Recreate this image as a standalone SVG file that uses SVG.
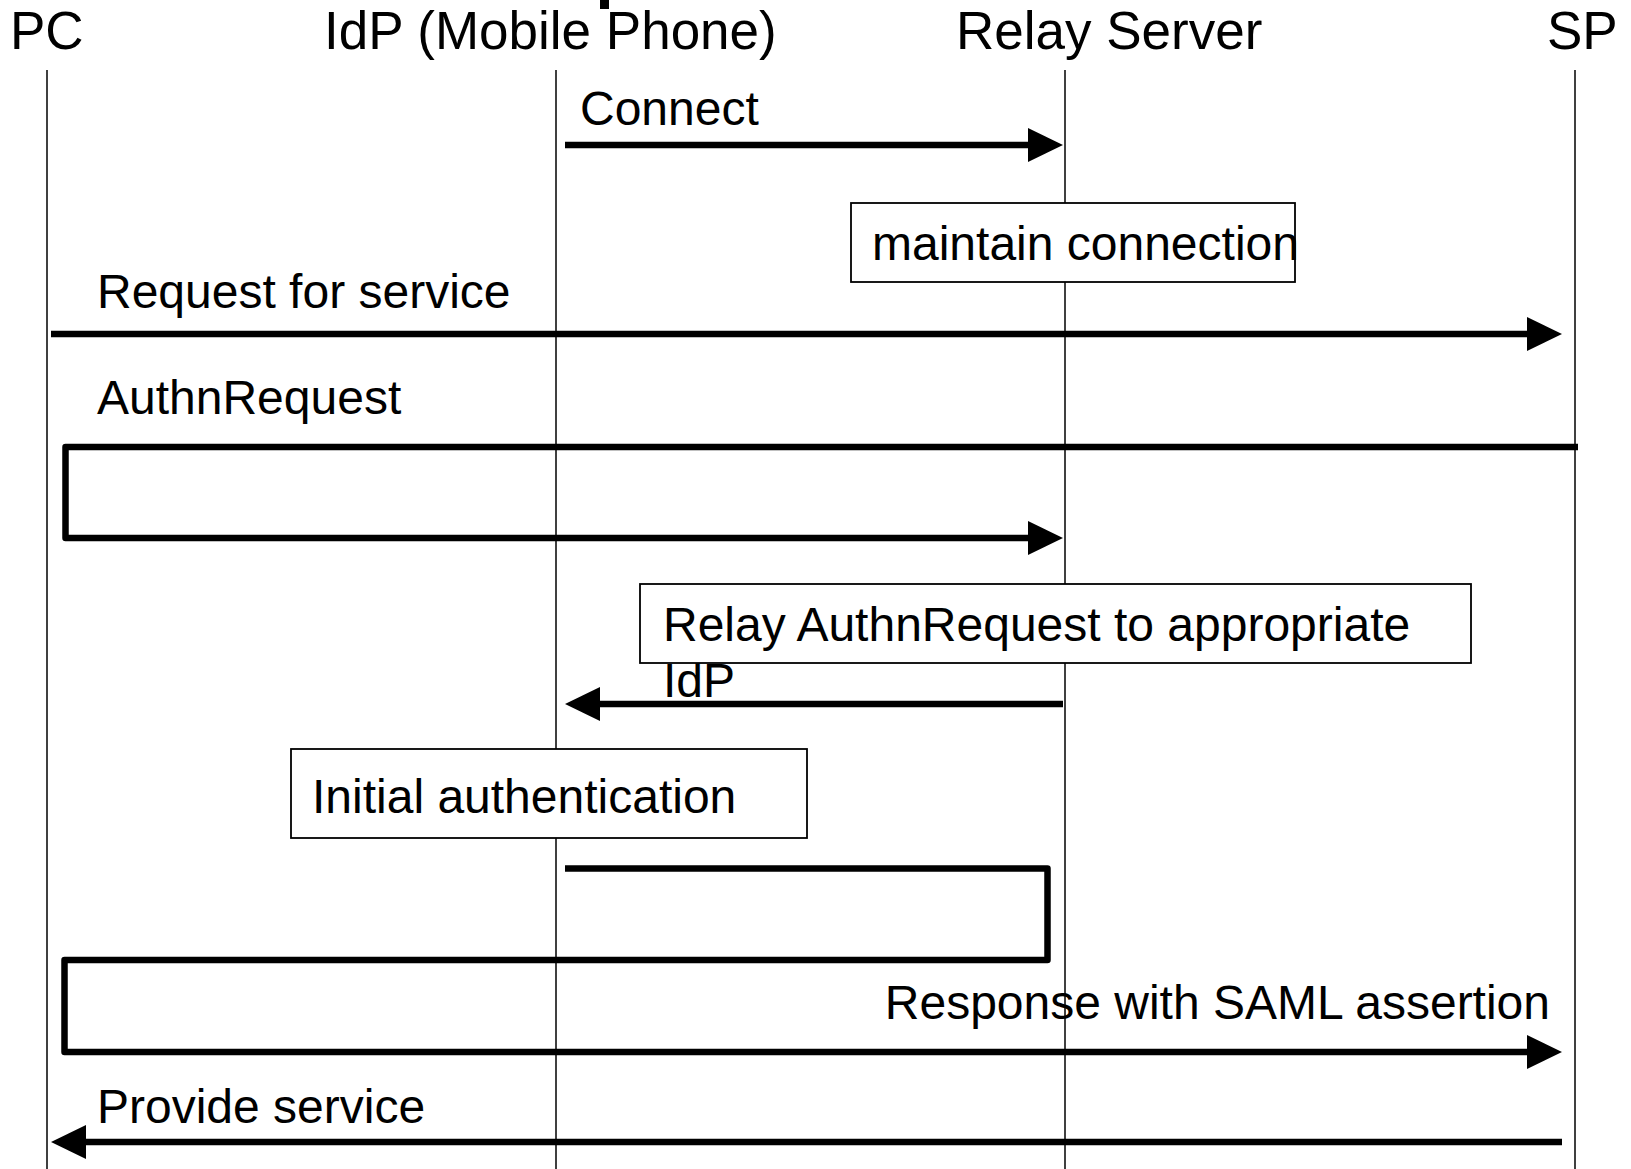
<svg xmlns="http://www.w3.org/2000/svg" width="1631" height="1169" viewBox="0 0 1631 1169">
<style>
.hd{font-family:"Liberation Sans",Arial,sans-serif;font-size:53px;fill:#000}
.tx{font-family:"Liberation Sans",Arial,sans-serif;font-size:48px;fill:#000}
.life{stroke:#000;stroke-width:1.5;fill:none}
.box{fill:#fff;stroke:#000;stroke-width:1.8}
.msg{stroke:#000;stroke-width:6.5;fill:none;stroke-linejoin:round}
.head{fill:#000}
</style>
<rect width="1631" height="1169" fill="#fff"/>
<rect x="600" y="0" width="9" height="9" fill="#000"/>
<g id="labels">
<text class="tx" x="580" y="125">Connect</text>
<text class="tx" x="97" y="308">Request for service</text>
<text class="tx" x="97" y="414">AuthnRequest</text>
<text class="tx" x="663" y="697">IdP</text>
<text class="tx" x="1550" y="1019" text-anchor="end">Response with SAML assertion</text>
<text class="tx" x="97" y="1123">Provide service</text>
</g>
<g id="lifelines">
<g id="pc"><text class="hd" x="10" y="49">PC</text><line class="life" x1="47" y1="70" x2="47" y2="1169"/></g>
<g id="idp"><text class="hd" x="324" y="49">IdP (Mobile Phone)</text><line class="life" x1="556" y1="70" x2="556" y2="1169"/></g>
<g id="relay"><text class="hd" x="956" y="49">Relay Server</text><line class="life" x1="1065" y1="70" x2="1065" y2="1169"/></g>
<g id="sp"><text class="hd" x="1547" y="49">SP</text><line class="life" x1="1575" y1="70" x2="1575" y2="1169"/></g>
</g>
<g id="maintain"><rect class="box" x="851" y="203" width="444" height="79"/><text class="tx" x="872" y="260">maintain connection</text></g>
<g id="relaynote"><rect class="box" x="640" y="584" width="831" height="79"/><text class="tx" x="663" y="641">Relay AuthnRequest to appropriate</text></g>
<g id="initauth"><rect class="box" x="291" y="749" width="516" height="89"/><text class="tx" x="312" y="813">Initial authentication</text></g>
<g id="connectors">
<path class="msg" d="M565,145 H1030"/>
<polygon class="head" points="1028,128 1063,145 1028,162"/>
<path class="msg" d="M51,334 H1530"/>
<polygon class="head" points="1527,317 1562,334 1527,351"/>
<path class="msg" d="M1578,447 H65.5 V538 H1030"/>
<polygon class="head" points="1028,521 1063,538 1028,555"/>
<path class="msg" d="M1063,704 H595"/>
<polygon class="head" points="600,687 565,704 600,721"/>
<path class="msg" d="M565,868.5 H1047.5 V960 H64.5 V1052 H1530"/>
<polygon class="head" points="1527,1035 1562,1052 1527,1069"/>
<path class="msg" d="M1562,1142 H85"/>
<polygon class="head" points="86,1125 51,1142 86,1159"/>
</g>
</svg>
